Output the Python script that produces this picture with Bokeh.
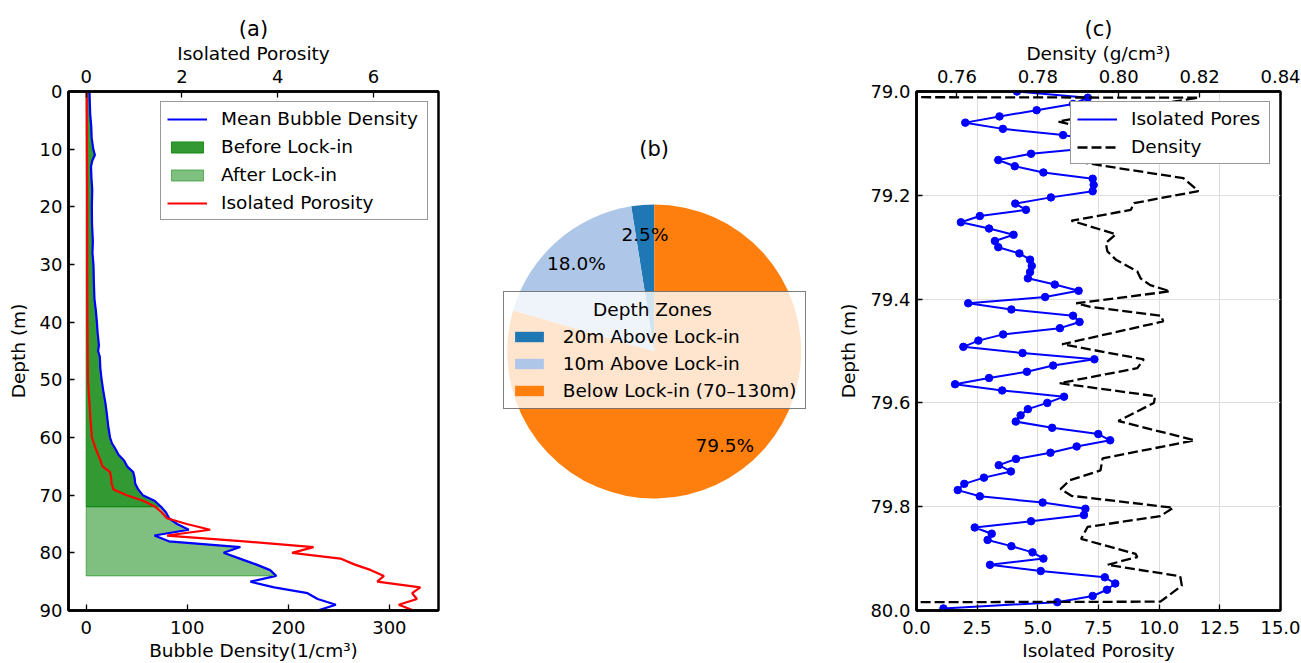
import numpy as np
from bokeh.plotting import figure
from bokeh.models import (Range1d, LinearAxis, FixedTicker, NumeralTickFormatter,
                          Legend, LegendItem, ColumnDataSource, Label)
from bokeh.core.properties import value
from bokeh.layouts import row
from bokeh.embed import file_html
from bokeh.resources import INLINE

FONT = "DejaVu Sans"
TICK_FS = "18px"
LABEL_FS = "18.5px"
TITLE_FS = "21px"

# ---------------- (a) bubble density / isolated porosity profile ----------------
depth_a = [0, 2, 4, 6, 8, 10, 11, 12, 13, 15, 17, 20, 23, 26, 28, 30, 33, 36, 38, 40,
           42, 44, 45, 46, 48, 50, 52, 54, 56, 58, 60, 61, 62, 63, 64, 65, 66, 67, 68, 69,
           70, 71, 72, 73, 74, 75, 76, 77, 78, 79, 80, 81, 82, 83, 84, 85, 86, 87, 88, 89, 90]
bubble_density = [3.3, 3.6, 4.0, 5.0, 5.4, 7.0, 8.6, 6.0, 4.8, 5.2, 6.0, 5.6, 5.8, 6.6, 6.2,
                  7.2, 7.6, 8.2, 9.6, 10.6, 11.4, 12.6, 11.8, 13.5, 14.0, 15.3, 17.0, 19.0,
                  20.5, 21.8, 23.6, 25.5, 29.0, 32.0, 37.5, 40.5, 46.5, 47.9, 48.5, 51.5,
                  56.0, 68.0, 74.0, 79.0, 82.0, 90.0, 101.5, 67.5, 81.8, 152.5, 136.0, 152.0,
                  168.0, 182.0, 188.0, 162.5, 186.0, 219.0, 229.0, 247.0, 229.0]

depth_por = [0, 10, 20, 30, 40, 50, 55, 57, 60, 61, 62, 63, 64, 65, 66, 67, 68, 69, 70, 71,
             72, 73, 74, 75, 76, 77, 78, 79, 80, 81, 82, 83, 84, 85, 86, 87, 88, 89, 90]
isolated_porosity = [0.01, 0.015, 0.02, 0.02, 0.025, 0.035, 0.075, 0.09, 0.12, 0.16, 0.2,
                     0.25, 0.3, 0.34, 0.50, 0.52, 0.53, 0.57, 0.85, 1.2, 1.44, 1.58, 1.69,
                     2.1, 2.59, 1.69, 3.3, 4.75, 4.3, 5.31, 5.6, 5.95, 6.22, 6.08, 6.98,
                     6.81, 6.91, 6.53, 6.84]

LOCK_IN_START = 72
LOCK_IN_END = 84

# ---------------- (b) share of depth zones ----------------
zone_labels = ["20m Above Lock-in", "10m Above Lock-in", "Below Lock-in (70\u2013130m)"]
zone_share = [2.5, 18.0, 79.5]
zone_colors = ["#1f77b4", "#aec7e8", "#ff7f0e"]

# ---------------- (c) core section 79-80 m ----------------
depth_c = [79.000, 79.012, 79.024, 79.036, 79.048, 79.060, 79.072, 79.084, 79.096, 79.108,
           79.120, 79.132, 79.144, 79.156, 79.168, 79.180, 79.192, 79.204, 79.216, 79.228,
           79.240, 79.252, 79.264, 79.276, 79.288, 79.300, 79.312, 79.324, 79.336, 79.348,
           79.360, 79.372, 79.384, 79.396, 79.408, 79.420, 79.432, 79.444, 79.456, 79.468,
           79.480, 79.492, 79.504, 79.516, 79.528, 79.540, 79.552, 79.564, 79.576, 79.588,
           79.600, 79.612, 79.624, 79.636, 79.648, 79.660, 79.672, 79.684, 79.696, 79.708,
           79.720, 79.732, 79.744, 79.756, 79.768, 79.780, 79.792, 79.804, 79.816, 79.828,
           79.840, 79.852, 79.864, 79.876, 79.888, 79.900, 79.912, 79.924, 79.936, 79.948,
           79.960, 79.972, 79.984, 79.996]
isolated_pores = [4.14, 7.06, 6.45, 4.95, 3.42, 2.01, 3.56, 6.04, 7.6, 7.45,
                  4.72, 3.37, 4.05, 5.23, 7.26, 7.30, 7.26, 5.54, 4.07, 4.51,
                  2.61, 1.83, 2.99, 4.00, 3.23, 3.37, 4.24, 4.68, 4.75, 4.68,
                  4.59, 5.70, 6.68, 5.30, 2.13, 3.91, 6.45, 6.72, 5.91, 3.57,
                  2.55, 1.93, 4.37, 7.33, 5.63, 4.55, 2.99, 1.59, 3.53, 6.08,
                  5.39, 4.59, 4.29, 4.09, 5.59, 7.49, 7.98, 6.60, 5.52, 4.10,
                  3.39, 3.89, 2.78, 1.97, 1.70, 2.61, 5.20, 6.96, 6.90, 4.72,
                  2.40, 3.10, 2.93, 3.91, 4.78, 5.23, 3.03, 5.12, 7.76, 8.19,
                  7.85, 7.26, 5.80, 1.11]

depth_dens = [79.000, 79.012, 79.030, 79.058, 79.085, 79.115, 79.138, 79.167, 79.192, 79.215,
              79.228, 79.249, 79.275, 79.292, 79.308, 79.324, 79.347, 79.360, 79.373, 79.385,
              79.408, 79.415, 79.432, 79.443, 79.487, 79.516, 79.533, 79.562, 79.587, 79.600,
              79.635, 79.672, 79.707, 79.730, 79.749, 79.766, 79.779, 79.802, 79.818, 79.839,
              79.862, 79.891, 79.897, 79.912, 79.934, 79.952, 79.983, 79.996]
density = [0.0, 0.8197, 0.8050, 0.7850, 0.8000, 0.7980, 0.7920, 0.8160, 0.8197, 0.8038,
           0.8030, 0.7883, 0.7993, 0.7968, 0.7972, 0.7993, 0.8046, 0.8054, 0.8078, 0.8127,
           0.7895, 0.7930, 0.8105, 0.8110, 0.7860, 0.8062, 0.8046, 0.7854, 0.8090, 0.8087,
           0.7999, 0.8188, 0.7960, 0.7955, 0.7879, 0.7856, 0.7883, 0.8135, 0.8103, 0.7923,
           0.7907, 0.8042, 0.8046, 0.7972, 0.8152, 0.8156, 0.8103, 0.0]

# shared frame geometry (pixels)
BORDER_TOP, FRAME_H, BORDER_BOTTOM = 91, 519, 53


def style_axis(ax, ticks, label, fmt=None, tick_standoff=6, label_standoff=5):
    ax.ticker = FixedTicker(ticks=ticks)
    ax.major_tick_in = 6
    ax.major_tick_out = 0
    ax.minor_tick_in = 0
    ax.minor_tick_out = 0
    ax.major_tick_line_width = 1.3
    ax.major_tick_line_color = "black"
    ax.axis_line_width = 2.5
    ax.axis_line_color = "black"
    ax.major_label_text_font = FONT
    ax.major_label_text_font_size = TICK_FS
    ax.major_label_text_color = "black"
    ax.major_label_standoff = tick_standoff
    ax.axis_label = label
    ax.axis_label_text_font = FONT
    ax.axis_label_text_font_size = LABEL_FS
    ax.axis_label_text_font_style = "normal"
    ax.axis_label_text_color = "black"
    ax.axis_label_standoff = label_standoff
    if fmt:
        ax.formatter = NumeralTickFormatter(format=fmt)


def style_title(p):
    p.title.align = "center"
    p.title.text_font = FONT
    p.title.text_font_size = TITLE_FS
    p.title.text_font_style = "normal"
    p.title.text_color = "black"
    p.title.standoff = -3


def style_legend(leg, glyph_h=14):
    leg.label_text_font = FONT
    leg.label_text_font_size = LABEL_FS
    leg.label_text_color = "black"
    leg.glyph_width = 40
    leg.glyph_height = glyph_h
    leg.label_height = 21
    leg.label_standoff = 14
    leg.padding = 6
    leg.spacing = 7
    leg.margin = 10
    leg.border_line_color = "#333333"
    leg.border_line_width = 1.2
    leg.background_fill_color = "white"
    leg.background_fill_alpha = 0.8


# ================= panel (a) =================
pa = figure(width=480, height=663, title="(a)",
            x_range=Range1d(-17.5, 348.6), y_range=Range1d(90, 0),
            output_backend="svg", toolbar_location=None,
            min_border_left=68, min_border_right=42,
            min_border_top=BORDER_TOP, min_border_bottom=BORDER_BOTTOM)
pa.extra_x_ranges = {"por": Range1d(-0.37, 7.36)}
style_title(pa)
pa.grid.visible = False
pa.outline_line_color = "black"
pa.outline_line_width = 2.5
pa.outline_line_alpha = 1

style_axis(pa.xaxis[0], [0, 100, 200, 300], "Bubble Density(1/cm\u00b3)",
           tick_standoff=10, label_standoff=3)
style_axis(pa.yaxis[0], list(range(0, 91, 10)), "Depth (m)", label_standoff=8)
top_a = LinearAxis(x_range_name="por")
style_axis(top_a, [0, 2, 4, 6], "Isolated Porosity", tick_standoff=9, label_standoff=3)
pa.add_layout(top_a, "above")

d_a = np.array(depth_a, dtype=float)
b_a = np.array(bubble_density, dtype=float)


def fill_polygon(mask):
    ys = d_a[mask]
    xs = b_a[mask]
    return (np.concatenate([[0.0], xs, [0.0]]),
            np.concatenate([[ys[0]], ys, [ys[-1]]]))


xs1, ys1 = fill_polygon(d_a <= LOCK_IN_START)
xs2, ys2 = fill_polygon((d_a >= LOCK_IN_START) & (d_a <= LOCK_IN_END))
before = pa.patch(xs1, ys1, fill_color="green", fill_alpha=0.8,
                  line_color="green", line_alpha=0.8, line_width=1)
after = pa.patch(xs2, ys2, fill_color="green", fill_alpha=0.5,
                 line_color="green", line_alpha=0.5, line_width=1)
mean_line = pa.line(bubble_density, depth_a, line_color="blue", line_width=2.2)
por_line = pa.line(isolated_porosity, depth_por, x_range_name="por",
                   line_color="red", line_width=2.2)

leg_a = Legend(items=[LegendItem(label="Mean Bubble Density", renderers=[mean_line]),
                      LegendItem(label="Before Lock-in", renderers=[before]),
                      LegendItem(label="After Lock-in", renderers=[after]),
                      LegendItem(label="Isolated Porosity", renderers=[por_line])],
               location="top_right")
style_legend(leg_a)
leg_a.label_width = 200
pa.add_layout(leg_a)

# ================= panel (b) =================
PB_W = 355
PIE_X, PIE_Y, PIE_R = 173.7, 259.0, 147.0
pb = figure(width=PB_W, height=663, x_range=Range1d(0, PB_W), y_range=Range1d(0, FRAME_H),
            x_axis_location=None, y_axis_location=None,
            min_border_left=0, min_border_right=0,
            min_border_top=BORDER_TOP, min_border_bottom=BORDER_BOTTOM,
            output_backend="svg", toolbar_location=None)
pb.grid.visible = False
pb.outline_line_color = None

share = np.array(zone_share)
sweep = share / share.sum() * 2 * np.pi
start = np.pi / 2 + np.concatenate([[0.0], np.cumsum(sweep)[:-1]])
end = start + sweep
mid = (start + end) / 2
pie_src = ColumnDataSource(dict(start=start, end=end, color=zone_colors, label=zone_labels))
wedges = pb.wedge(x=PIE_X, y=PIE_Y, radius=PIE_R, start_angle="start", end_angle="end",
                  fill_color="color", line_color=None, source=pie_src)

pct_src = ColumnDataSource(dict(x=PIE_X + 0.8 * PIE_R * np.cos(mid),
                                y=PIE_Y + 0.8 * PIE_R * np.sin(mid),
                                t=[f"{v:.1f}%" for v in zone_share]))
pb.text("x", "y", text="t", source=pct_src, text_align="center", text_baseline="middle",
        text_font=value(FONT), text_font_size=LABEL_FS, text_color="black")

pb.add_layout(Label(x=PIE_X, y=462, text="(b)", text_align="center", text_baseline="middle",
                    text_font=FONT, text_font_size=TITLE_FS, text_color="black"))

# legend title is centred over the entries with non-breaking spaces
leg_b = Legend(items=[LegendItem(label=lab, renderers=[wedges], index=i)
                      for i, lab in enumerate(zone_labels)],
               location=(22.7, 200.7), title="\u00a0" * 14 + "Depth Zones")
style_legend(leg_b, glyph_h=13)
leg_b.glyph_width = 36
leg_b.label_standoff = 16
leg_b.padding = 7
leg_b.spacing = 6
leg_b.label_width = 235
leg_b.border_line_color = "black"
leg_b.title_text_font = FONT
leg_b.title_text_font_size = LABEL_FS
leg_b.title_text_font_style = "normal"
leg_b.title_text_color = "black"
leg_b.title_standoff = 6
leg_b.margin = 0
pb.add_layout(leg_b)

# ================= panel (c) =================
pc = figure(width=466, height=663, title="(c)",
            x_range=Range1d(0, 15), y_range=Range1d(80, 79),
            output_backend="svg", toolbar_location=None,
            min_border_left=77, min_border_right=21,
            min_border_top=BORDER_TOP, min_border_bottom=BORDER_BOTTOM)
pc.extra_x_ranges = {"dens": Range1d(0.75, 0.84)}
style_title(pc)
pc.outline_line_color = "black"
pc.outline_line_width = 2.5
pc.outline_line_alpha = 1

x_ticks_c = [0, 2.5, 5, 7.5, 10, 12.5, 15]
y_ticks_c = [79.0, 79.2, 79.4, 79.6, 79.8, 80.0]
style_axis(pc.xaxis[0], x_ticks_c, "Isolated Porosity", fmt="0.0",
           tick_standoff=10, label_standoff=3)
style_axis(pc.yaxis[0], y_ticks_c, "Depth (m)", fmt="0.0", label_standoff=8)
top_c = LinearAxis(x_range_name="dens")
style_axis(top_c, [0.76, 0.78, 0.80, 0.82, 0.84], "Density (g/cm\u00b3)", fmt="0.00",
           tick_standoff=9, label_standoff=3)
pc.add_layout(top_c, "above")

pc.xgrid.ticker = FixedTicker(ticks=x_ticks_c)
pc.ygrid.ticker = FixedTicker(ticks=y_ticks_c)
pc.grid.grid_line_color = "#dedede"
pc.grid.grid_line_width = 1

pores_src = ColumnDataSource(dict(x=isolated_pores, y=depth_c))
pores_line = pc.line("x", "y", source=pores_src, line_color="blue", line_width=2)
pc.scatter("x", "y", source=pores_src, size=7.5, fill_color="blue", line_color="blue")
dens_line = pc.line(density, depth_dens, x_range_name="dens", line_color="black",
                    line_width=2.3, line_dash="10 4")

leg_c = Legend(items=[LegendItem(label="Isolated Pores", renderers=[pores_line]),
                      LegendItem(label="Density", renderers=[dens_line])],
               location="top_right")
style_legend(leg_c)
leg_c.label_width = 132
leg_c.background_fill_alpha = 1.0
pc.add_layout(leg_c)

layout = row(pa, pb, pc)
open("out.html", "w").write(file_html(layout, INLINE))
